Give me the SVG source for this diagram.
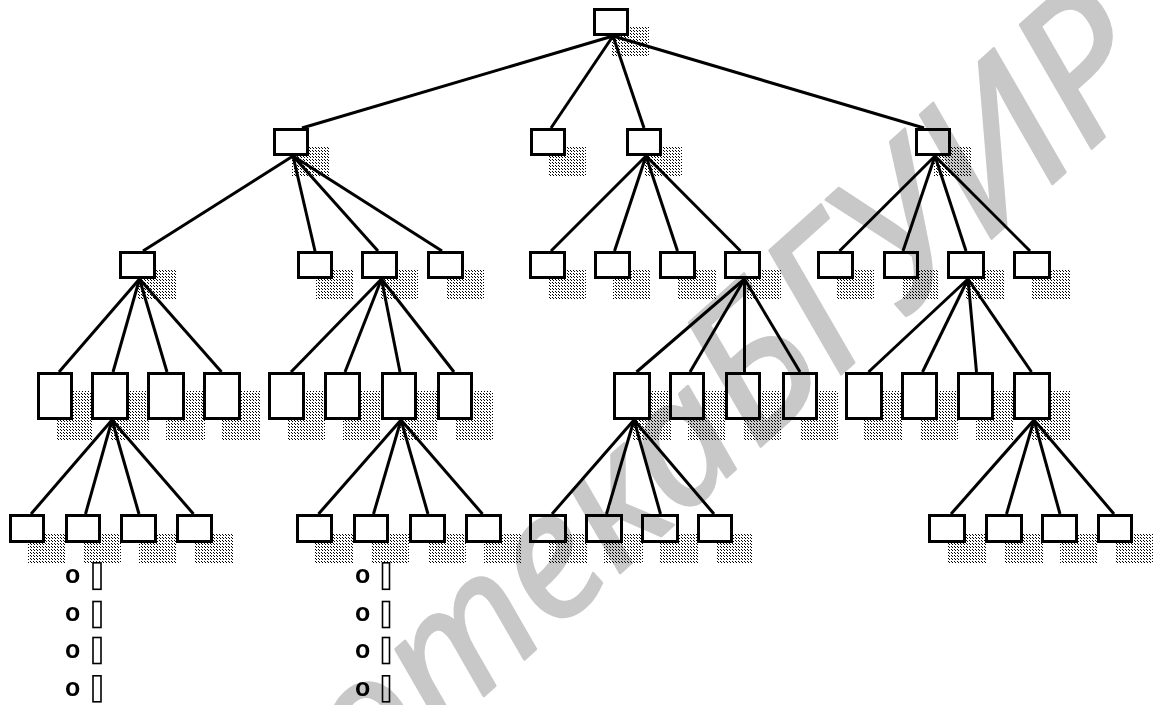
<svg xmlns="http://www.w3.org/2000/svg" width="1156" height="705" viewBox="0 0 1156 705">
<style>
.b{fill:#fff;stroke:#000;stroke-width:3}
.s{fill:url(#h)}
.c line{stroke:#000;stroke-width:3;stroke-linecap:butt}
.o{font-family:"Liberation Sans",Arial,sans-serif;font-weight:bold;font-size:25px;fill:#000}
.t{fill:#fff;stroke:#000;stroke-width:1.6}
.wm{font-family:"Noto Sans","Open Sans",sans-serif;font-style:italic;font-size:175px;fill:#c8c8c8;stroke:#c8c8c8;stroke-width:2.5;stroke-linejoin:round;mix-blend-mode:multiply}
</style>
<defs>
<pattern id="h" width="3" height="3" patternUnits="userSpaceOnUse">
<g fill="#000">
<rect x="0" y="0" width="1" height="1"/>
<rect x="1" y="1" width="1" height="1"/>
</g>
</pattern>
</defs>
<rect width="1156" height="705" fill="#fff"/>

<g id="root"><rect class="s" x="612" y="27" width="37" height="29"/><rect class="b" x="594.5" y="9.5" width="33" height="25"/></g>

<g id="n-a"><rect class="s" x="292" y="147" width="37" height="29"/><rect class="b" x="274.5" y="129.5" width="33" height="25"/></g>
<g id="n-b"><rect class="s" x="549" y="147" width="37" height="29"/><rect class="b" x="531.5" y="129.5" width="33" height="25"/></g>
<g id="n-c"><rect class="s" x="645" y="147" width="37" height="29"/><rect class="b" x="627.5" y="129.5" width="33" height="25"/></g>
<g id="n-d"><rect class="s" x="934" y="147" width="37" height="29"/><rect class="b" x="916.5" y="129.5" width="33" height="25"/></g>

<g id="n-a1"><rect class="s" x="138" y="270" width="38" height="29"/><rect class="b" x="120.5" y="252.5" width="34" height="25"/></g>
<g id="n-a2"><rect class="s" x="316" y="270" width="37" height="29"/><rect class="b" x="298.5" y="252.5" width="33" height="25"/></g>
<g id="n-a3"><rect class="s" x="380" y="270" width="38" height="29"/><rect class="b" x="362.5" y="252.5" width="34" height="25"/></g>
<g id="n-a4"><rect class="s" x="446" y="270" width="38" height="29"/><rect class="b" x="428.5" y="252.5" width="34" height="25"/></g>
<g id="n-c1"><rect class="s" x="548" y="270" width="38" height="29"/><rect class="b" x="530.5" y="252.5" width="34" height="25"/></g>
<g id="n-c2"><rect class="s" x="613" y="270" width="38" height="29"/><rect class="b" x="595.5" y="252.5" width="34" height="25"/></g>
<g id="n-c3"><rect class="s" x="678" y="270" width="38" height="29"/><rect class="b" x="660.5" y="252.5" width="34" height="25"/></g>
<g id="n-c4"><rect class="s" x="743" y="270" width="38" height="29"/><rect class="b" x="725.5" y="252.5" width="34" height="25"/></g>
<g id="n-d1"><rect class="s" x="836" y="270" width="38" height="29"/><rect class="b" x="818.5" y="252.5" width="34" height="25"/></g>
<g id="n-d2"><rect class="s" x="902" y="270" width="37" height="29"/><rect class="b" x="884.5" y="252.5" width="33" height="25"/></g>
<g id="n-d3"><rect class="s" x="966" y="270" width="39" height="29"/><rect class="b" x="948.5" y="252.5" width="35" height="25"/></g>
<g id="n-d4"><rect class="s" x="1032" y="270" width="39" height="29"/><rect class="b" x="1014.5" y="252.5" width="35" height="25"/></g>

<g id="n-a1a"><rect class="s" x="56" y="391" width="37" height="49"/><rect class="b" x="38.5" y="373.5" width="33" height="45"/></g>
<g id="n-a1b"><rect class="s" x="110" y="391" width="39" height="49"/><rect class="b" x="92.5" y="373.5" width="35" height="45"/></g>
<g id="n-a1c"><rect class="s" x="166" y="391" width="39" height="49"/><rect class="b" x="148.5" y="373.5" width="35" height="45"/></g>
<g id="n-a1d"><rect class="s" x="222" y="391" width="39" height="49"/><rect class="b" x="204.5" y="373.5" width="35" height="45"/></g>
<g id="n-a3a"><rect class="s" x="287" y="391" width="38" height="49"/><rect class="b" x="269.5" y="373.5" width="34" height="45"/></g>
<g id="n-a3b"><rect class="s" x="343" y="391" width="38" height="49"/><rect class="b" x="325.5" y="373.5" width="34" height="45"/></g>
<g id="n-a3c"><rect class="s" x="400" y="391" width="37" height="49"/><rect class="b" x="382.5" y="373.5" width="33" height="45"/></g>
<g id="n-a3d"><rect class="s" x="456" y="391" width="37" height="49"/><rect class="b" x="438.5" y="373.5" width="33" height="45"/></g>
<g id="n-c4a"><rect class="s" x="632" y="391" width="39" height="49"/><rect class="b" x="614.5" y="373.5" width="35" height="45"/></g>
<g id="n-c4b"><rect class="s" x="688" y="391" width="37" height="49"/><rect class="b" x="670.5" y="373.5" width="33" height="45"/></g>
<g id="n-c4c"><rect class="s" x="744" y="391" width="37" height="49"/><rect class="b" x="726.5" y="373.5" width="33" height="45"/></g>
<g id="n-c4d"><rect class="s" x="801" y="391" width="37" height="49"/><rect class="b" x="783.5" y="373.5" width="33" height="45"/></g>
<g id="n-d3a"><rect class="s" x="864" y="391" width="39" height="49"/><rect class="b" x="846.5" y="373.5" width="35" height="45"/></g>
<g id="n-d3b"><rect class="s" x="920" y="391" width="38" height="49"/><rect class="b" x="902.5" y="373.5" width="34" height="45"/></g>
<g id="n-d3c"><rect class="s" x="976" y="391" width="38" height="49"/><rect class="b" x="958.5" y="373.5" width="34" height="45"/></g>
<g id="n-d3d"><rect class="s" x="1032" y="391" width="39" height="49"/><rect class="b" x="1014.5" y="373.5" width="35" height="45"/></g>

<g id="n-a1b1"><rect class="s" x="28" y="533" width="37" height="30"/><rect class="b" x="10.5" y="515.5" width="33" height="26"/></g>
<g id="n-a1b2"><rect class="s" x="84" y="533" width="37" height="30"/><rect class="b" x="66.5" y="515.5" width="33" height="26"/></g>
<g id="n-a1b3"><rect class="s" x="139" y="533" width="38" height="30"/><rect class="b" x="121.5" y="515.5" width="34" height="26"/></g>
<g id="n-a1b4"><rect class="s" x="195" y="533" width="38" height="30"/><rect class="b" x="177.5" y="515.5" width="34" height="26"/></g>
<g id="n-a3c1"><rect class="s" x="315" y="533" width="38" height="30"/><rect class="b" x="297.5" y="515.5" width="34" height="26"/></g>
<g id="n-a3c2"><rect class="s" x="372" y="533" width="37" height="30"/><rect class="b" x="354.5" y="515.5" width="33" height="26"/></g>
<g id="n-a3c3"><rect class="s" x="428" y="533" width="38" height="30"/><rect class="b" x="410.5" y="515.5" width="34" height="26"/></g>
<g id="n-a3c4"><rect class="s" x="484" y="533" width="38" height="30"/><rect class="b" x="466.5" y="515.5" width="34" height="26"/></g>
<g id="n-c4a1"><rect class="s" x="548" y="533" width="39" height="30"/><rect class="b" x="530.5" y="515.5" width="35" height="26"/></g>
<g id="n-c4a2"><rect class="s" x="604" y="533" width="39" height="30"/><rect class="b" x="586.5" y="515.5" width="35" height="26"/></g>
<g id="n-c4a3"><rect class="s" x="660" y="533" width="39" height="30"/><rect class="b" x="642.5" y="515.5" width="35" height="26"/></g>
<g id="n-c4a4"><rect class="s" x="716" y="533" width="37" height="30"/><rect class="b" x="698.5" y="515.5" width="33" height="26"/></g>
<g id="n-d3d1"><rect class="s" x="947" y="533" width="39" height="30"/><rect class="b" x="929.5" y="515.5" width="35" height="26"/></g>
<g id="n-d3d2"><rect class="s" x="1004" y="533" width="39" height="30"/><rect class="b" x="986.5" y="515.5" width="35" height="26"/></g>
<g id="n-d3d3"><rect class="s" x="1060" y="533" width="38" height="30"/><rect class="b" x="1042.5" y="515.5" width="34" height="26"/></g>
<g id="n-d3d4"><rect class="s" x="1116" y="533" width="37" height="30"/><rect class="b" x="1098.5" y="515.5" width="33" height="26"/></g>

<g id="connectors" class="c">
<line x1="613" y1="36" x2="302" y2="128"/>
<line x1="613" y1="36" x2="551" y2="128"/>
<line x1="613" y1="36" x2="644" y2="128"/>
<line x1="613" y1="36" x2="924" y2="128"/>
<line x1="293" y1="156" x2="143" y2="251"/>
<line x1="293" y1="156" x2="315" y2="251"/>
<line x1="293" y1="156" x2="378" y2="251"/>
<line x1="293" y1="156" x2="442" y2="251"/>
<line x1="646" y1="156" x2="551" y2="251"/>
<line x1="646" y1="156" x2="614.5" y2="251"/>
<line x1="646" y1="156" x2="677.5" y2="251"/>
<line x1="646" y1="156" x2="740.5" y2="251"/>
<line x1="935" y1="156" x2="839.5" y2="251"/>
<line x1="935" y1="156" x2="903" y2="251"/>
<line x1="935" y1="156" x2="966" y2="251"/>
<line x1="935" y1="156" x2="1030" y2="251"/>
<line x1="139.5" y1="279" x2="59" y2="372"/>
<line x1="139.5" y1="279" x2="113" y2="372"/>
<line x1="139.5" y1="279" x2="167" y2="372"/>
<line x1="139.5" y1="279" x2="221.5" y2="372"/>
<line x1="381.5" y1="279" x2="291" y2="372"/>
<line x1="381.5" y1="279" x2="345" y2="372"/>
<line x1="381.5" y1="279" x2="400" y2="372"/>
<line x1="381.5" y1="279" x2="454" y2="372"/>
<line x1="744.5" y1="279" x2="636.5" y2="372"/>
<line x1="744.5" y1="279" x2="690" y2="372"/>
<line x1="744.5" y1="279" x2="744.5" y2="372"/>
<line x1="744.5" y1="279" x2="800" y2="372"/>
<line x1="968" y1="279" x2="868.5" y2="372"/>
<line x1="968" y1="279" x2="922.5" y2="372"/>
<line x1="968" y1="279" x2="976.5" y2="372"/>
<line x1="968" y1="279" x2="1031.5" y2="372"/>
<line x1="112" y1="420" x2="31" y2="514"/>
<line x1="112" y1="420" x2="85.5" y2="514"/>
<line x1="112" y1="420" x2="139" y2="514"/>
<line x1="112" y1="420" x2="193.5" y2="514"/>
<line x1="401" y1="420" x2="318.5" y2="514"/>
<line x1="401" y1="420" x2="373.5" y2="514"/>
<line x1="401" y1="420" x2="428" y2="514"/>
<line x1="401" y1="420" x2="482.5" y2="514"/>
<line x1="634" y1="420" x2="552" y2="514"/>
<line x1="634" y1="420" x2="606.5" y2="514"/>
<line x1="634" y1="420" x2="660.5" y2="514"/>
<line x1="634" y1="420" x2="714" y2="514"/>
<line x1="1034" y1="420" x2="951" y2="514"/>
<line x1="1034" y1="420" x2="1006.5" y2="514"/>
<line x1="1034" y1="420" x2="1060" y2="514"/>
<line x1="1034" y1="420" x2="1114" y2="514"/>
</g>

<g id="ellipsis-left">
<text class="o" x="65" y="583">o</text>
<text class="o" x="65" y="620.5">o</text>
<text class="o" x="65" y="657.5">o</text>
<text class="o" x="65" y="695.5">o</text>
<rect class="t" x="93" y="562.8" width="8" height="26.5"/>
<rect class="t" x="93" y="601.5" width="8" height="26"/>
<rect class="t" x="93" y="637.5" width="8" height="26"/>
<rect class="t" x="93" y="675.8" width="8" height="26"/>
</g>
<g id="ellipsis-middle">
<text class="o" x="355" y="583">o</text>
<text class="o" x="355" y="620.5">o</text>
<text class="o" x="355" y="657.5">o</text>
<text class="o" x="355" y="695.5">o</text>
<rect class="t" x="382.5" y="562.8" width="7" height="26.5"/>
<rect class="t" x="382.5" y="601.5" width="7" height="26"/>
<rect class="t" x="382.5" y="637.5" width="7" height="26"/>
<rect class="t" x="382.5" y="675.8" width="7" height="26"/>
</g>

<text class="wm" x="2.4" y="1129.4" transform="rotate(-42 2.4 1129.4)">Библиотека<tspan dx="-48" font-size="196"> БГУИР</tspan></text>
</svg>
